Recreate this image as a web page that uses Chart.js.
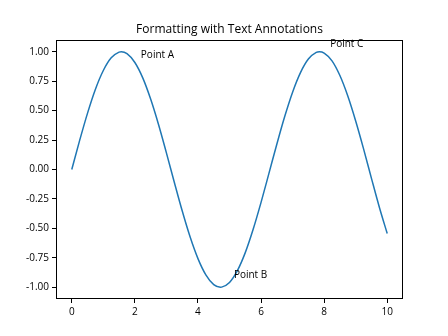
<!DOCTYPE html>
<html>
<head>
<meta charset="utf-8">
<script src="https://cdn.jsdelivr.net/npm/chart.js@4"></script>
<style>
  html, body { margin: 0; padding: 0; background: #fff; }
  #wrap { width: 448px; height: 336px; }
</style>
</head>
<body>
<div id="wrap"><canvas id="myChart" width="448" height="336"></canvas></div>
<script>
// x positions and the curve values (peaks included)
var xs = [0, 0.25, 0.5, 0.75, 1, 1.25, 1.5, 1.57, 1.75, 2, 2.25, 2.5, 2.75, 3, 3.25, 3.5, 3.75,
  4, 4.25, 4.5, 4.71, 4.75, 5, 5.25, 5.5, 5.75, 6, 6.25, 6.5, 6.75, 7, 7.25, 7.5, 7.75, 7.85,
  8, 8.25, 8.5, 8.75, 9, 9.25, 9.5, 9.75, 10];
var ys = [0, 0.247, 0.479, 0.682, 0.841, 0.949, 0.997, 1.0, 0.984, 0.909, 0.778, 0.598, 0.382,
  0.141, -0.108, -0.351, -0.572, -0.757, -0.895, -0.978, -1.0, -0.999, -0.959, -0.859, -0.706,
  -0.508, -0.279, -0.033, 0.215, 0.450, 0.657, 0.823, 0.938, 0.995, 1.0, 0.989, 0.923, 0.798,
  0.624, 0.412, 0.175, -0.075, -0.320, -0.544];

var xTicks = [0, 2, 4, 6, 8, 10];
var yTicks = [-1, -0.75, -0.5, -0.25, 0, 0.25, 0.5, 0.75, 1];

var noteLabels = ['Point A', 'Point B', 'Point C'];
var noteX = [2.19, 5.14, 8.19];
var noteY = [0.943, -0.923, 1.04];

var titleText = 'Formatting with Text Annotations';
var fontName = '"Open Sans", "Noto Sans", sans-serif';

var points = xs.map(function (x, i) { return { x: x, y: ys[i] }; });

// frame, title and the text notes
var extras = {
  id: 'extras',
  afterDraw: function (chart) {
    var ctx = chart.ctx;
    var a = chart.chartArea;
    ctx.save();
    ctx.strokeStyle = '#000';
    ctx.lineWidth = 1;
    ctx.strokeRect(Math.round(a.left) + 0.5, Math.round(a.top) + 0.5,
      Math.round(a.right - a.left) - 1, Math.round(a.bottom - a.top) - 1);

    ctx.fillStyle = '#000';
    ctx.font = '12px ' + fontName;
    ctx.textAlign = 'center';
    ctx.textBaseline = 'alphabetic';
    ctx.fillText(titleText, (a.left + a.right) / 2, 33);

    ctx.font = '10px ' + fontName;
    ctx.textAlign = 'left';
    var sx = chart.scales.x, sy = chart.scales.y;
    for (var i = 0; i < noteLabels.length; i++) {
      ctx.fillText(noteLabels[i], sx.getPixelForValue(noteX[i]), sy.getPixelForValue(noteY[i]));
    }
    ctx.restore();
  }
};

new Chart('myChart', {
  type: 'line',
  data: {
    datasets: [{
      data: points,
      borderColor: '#1f77b4',
      borderWidth: 1.5,
      pointRadius: 0,
      fill: false,
      cubicInterpolationMode: 'monotone'
    }]
  },
  options: {
    responsive: false,
    animation: false,
    layout: { padding: { top: 40, right: 45, left: 0, bottom: 0 } },
    plugins: { legend: { display: false }, tooltip: { enabled: false }, title: { display: false } },
    scales: {
      x: {
        type: 'linear',
        min: -0.5,
        max: 10.5,
        afterBuildTicks: function (scale) {
          scale.ticks = xTicks.map(function (v) { return { value: v }; });
        },
        afterFit: function (scale) { scale.height = 37; },
        grid: { drawOnChartArea: false, color: '#000', tickLength: 4 },
        border: { display: false },
        ticks: {
          color: '#000',
          padding: 3,
          maxRotation: 0,
          font: { family: fontName, size: 10 },
          callback: function (v) { return String(v); }
        }
      },
      y: {
        min: -1.1,
        max: 1.1,
        afterBuildTicks: function (scale) {
          scale.ticks = yTicks.map(function (v) { return { value: v }; });
        },
        afterFit: function (scale) { scale.width = 56; },
        grid: { drawOnChartArea: false, color: '#000', tickLength: 4 },
        border: { display: false },
        ticks: {
          color: '#000',
          padding: 3,
          font: { family: fontName, size: 10 },
          callback: function (v) { return v.toFixed(2); }
        }
      }
    }
  },
  plugins: [extras]
});
</script>
</body>
</html>
